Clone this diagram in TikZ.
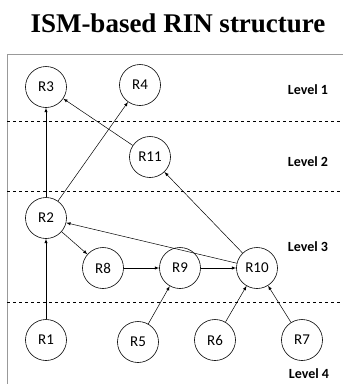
\documentclass[tikz,border=0pt]{standalone}
\usepackage{fontspec}
\setmainfont{Carlito}
\newfontfamily\titlefont{Liberation Serif}
\usetikzlibrary{arrows}

\begin{document}
\begin{tikzpicture}[%
    x=1pt, y=-1pt,              % Pixel-like units, counted from the top
    >=latex,                    % Small filled arrow heads
    ]
% -------------------------------------------------
% Styles for the factors, the level labels and the links
\tikzset{
  rin/.style={draw, circle, minimum size=41pt, inner sep=0pt,
    line width=0.6pt, font=\fontsize{15}{15}\selectfont},
  lvl/.style={font=\fontsize{14}{14}\selectfont\bfseries},
  sep/.style={dashed, line width=0.5pt},
  frame/.style={draw=gray!80, line width=0.8pt},
  link/.style={->, draw, line width=0.5pt}
}
\useasboundingbox (0,0) rectangle (343,384);
% -------------------------------------------------
% Title and frame
\node [font=\titlefont\fontsize{27}{27}\selectfont\bfseries] (title)
  at (178,23) {ISM-based RIN structure};
\draw [frame] (343,54) -- (7,54) -- (7,384);
\draw [sep] (7,121) -- (343,121);
\draw [sep] (7,191) -- (343,191);
\draw [sep] (7,302) -- (343,302);
% -------------------------------------------------
% Level labels
\node [lvl] (l1) at (308,90) {Level 1};
\node [lvl] (l2) at (308,162) {Level 2};
\node [lvl] (l3) at (308,247) {Level 3};
\node [lvl] (l4) at (309,374) {Level 4};
% -------------------------------------------------
% Factors, placed level by level
\node [rin] (r3) at (46,87) {R3};
\node [rin] (r4) at (140,85) {R4};
\node [rin] (r11) at (150,157) {R11};
\node [rin] (r2) at (46,218) {R2};
\node [rin] (r8) at (103,268) {R8};
\node [rin] (r9) at (180,268) {R9};
\node [rin] (r10) at (257,268) {R10};
\node [rin] (r1) at (46,340) {R1};
\node [rin] (r5) at (138,342) {R5};
\node [rin] (r6) at (215,340) {R6};
\node [rin] (r7) at (302,340) {R7};
% -------------------------------------------------
% Links
\draw [link] (r2) -- (r3);
\draw [link] (r2) -- (r4);
\draw [link] (r11) -- (r3);
\draw [link] (r10) -- (r11);
\draw [link] (r10) -- (r2);
\draw [link] (r2) -- (r8);
\draw [link] (r8) -- (r9);
\draw [link] (r9) -- (r10);
\draw [link] (r1) -- (r2);
\draw [link] (r5) -- (r9);
\draw [link] (r6) -- (r10);
\draw [link] (r7) -- (r10);
% -------------------------------------------------
\end{tikzpicture}
\end{document}
